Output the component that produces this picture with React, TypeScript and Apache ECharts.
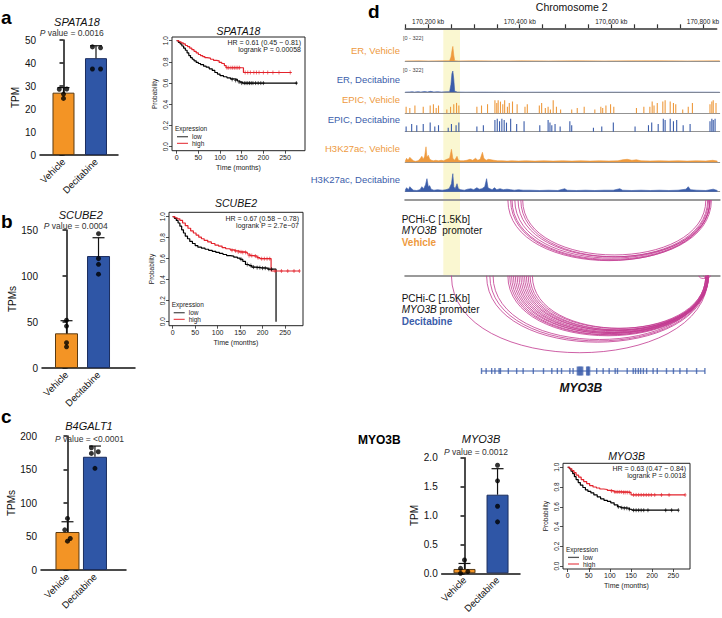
import React, { useEffect, useRef } from 'react';
import * as echarts from 'echarts';

const FONT = "'Liberation Sans', Arial, Helvetica, sans-serif";
const ORANGE = '#F39425';
const BLUE = '#2F56A6';
const T_ORANGE = '#EE9A3E';
const T_BLUE = '#3B5DAA';
const ARC = '#C23A91';
const KM_RED = '#E3232C';

// ---------------- bar chart data ----------------
const barCategories = ['Vehicle', 'Decitabine'];

const spata18Mean = [27.1, 42.1];
const spata18Sd = [2.2, 5.4];
const spata18Points = [[28.6, 28.7, 26.5, 24.6], [47.0, 46.6, 37.4, 37.4]];

const scube2Mean = [37.7, 121.7];
const scube2Sd = [13.7, 19.9];
const scube2Points = [[52, 45.6, 27.5, 23], [146, 119, 112.7, 102]];

const b4galt1Mean = [56.7, 169];
const b4galt1Sd = [15.3, 16];
const b4galt1Points = [[77, 60, 47, 43], [182.5, 174, 176.5, 151.8]];

const myo3bMean = [0.075, 1.36];
const myo3bSd = [0.095, 0.45];
const myo3bPoints = [[0.23, 0.086, 0.03, 0.0], [1.87, 1.6, 1.16, 0.89]];

// ---------------- Kaplan-Meier data ----------------
const kmXTicks = [0, 50, 100, 150, 200, 250];
const kmYTicks = [0, 0.2, 0.4, 0.6, 0.8, 1.0];

const spata18High = [[0,1],[5,0.99],[10,0.98],[15,0.97],[20,0.955],[25,0.945],[30,0.93],[35,0.915],[40,0.9],[45,0.885],[50,0.87],[55,0.86],[60,0.85],[65,0.84],[70,0.835],[78,0.825],[85,0.815],[92,0.81],[98,0.795],[104,0.785],[110,0.765],[114,0.745],[148,0.745],[154,0.70],[265,0.70]];
const spata18Low = [[0,1],[4,0.985],[8,0.97],[12,0.95],[16,0.93],[20,0.91],[24,0.885],[28,0.86],[32,0.84],[36,0.825],[40,0.81],[45,0.795],[50,0.785],[55,0.775],[62,0.76],[68,0.75],[75,0.735],[82,0.72],[88,0.7],[94,0.685],[100,0.67],[108,0.66],[116,0.65],[124,0.64],[132,0.635],[140,0.62],[146,0.61],[152,0.60],[278,0.60]];
const spata18HighCens = [[116,0.745],[120,0.745],[125,0.745],[129,0.745],[133,0.745],[137,0.745],[141,0.745],[145,0.745],[158,0.70],[164,0.70],[170,0.70],[178,0.70],[184,0.70],[190,0.70],[200,0.70],[210,0.70],[222,0.70],[236,0.70],[262,0.70]];
const spata18LowCens = [[128,0.635],[136,0.625],[144,0.61],[150,0.60],[156,0.60],[160,0.60],[164,0.60],[168,0.60],[172,0.60],[176,0.60],[182,0.60],[188,0.60],[194,0.60],[200,0.60],[276,0.60]];

const scube2High = [[0,1],[5,0.99],[10,0.98],[16,0.965],[22,0.94],[28,0.915],[34,0.89],[40,0.865],[46,0.845],[52,0.825],[58,0.805],[64,0.79],[70,0.775],[78,0.76],[86,0.745],[94,0.73],[102,0.72],[110,0.705],[118,0.695],[128,0.685],[138,0.675],[148,0.665],[160,0.66],[166,0.645],[172,0.63],[180,0.625],[188,0.61],[194,0.60],[219,0.60],[219,0.483],[282,0.483]];
const scube2Low = [[0,1],[4,0.985],[8,0.965],[12,0.94],[16,0.91],[20,0.875],[24,0.845],[28,0.815],[33,0.79],[38,0.765],[44,0.745],[50,0.725],[56,0.71],[64,0.70],[72,0.69],[80,0.68],[88,0.67],[96,0.66],[104,0.65],[112,0.64],[120,0.63],[128,0.625],[136,0.615],[144,0.605],[150,0.595],[156,0.575],[162,0.545],[170,0.535],[176,0.52],[186,0.515],[196,0.51],[212,0.50],[230,0.50],[230,0.0]];
const scube2HighCens = [[132,0.68],[140,0.675],[146,0.665],[152,0.665],[156,0.66],[162,0.66],[170,0.63],[176,0.63],[184,0.625],[190,0.61],[198,0.60],[204,0.60],[210,0.60],[216,0.60],[228,0.483],[242,0.483],[256,0.483],[270,0.483],[282,0.483]];
const scube2LowCens = [[152,0.595],[166,0.545],[174,0.535],[180,0.52],[188,0.515],[194,0.515],[200,0.51],[206,0.51],[214,0.50],[220,0.50]];

const myo3bHigh = [[0,1],[5,0.985],[10,0.965],[15,0.945],[20,0.92],[26,0.9],[32,0.875],[38,0.855],[45,0.835],[52,0.815],[60,0.80],[68,0.79],[76,0.78],[85,0.775],[94,0.765],[102,0.76],[110,0.75],[125,0.75],[140,0.745],[150,0.72],[278,0.72]];
const myo3bLow = [[0,1],[4,0.985],[8,0.96],[12,0.935],[16,0.905],[20,0.875],[25,0.845],[30,0.82],[36,0.795],[42,0.77],[48,0.755],[55,0.74],[62,0.72],[70,0.70],[78,0.68],[86,0.665],[94,0.655],[102,0.64],[110,0.62],[118,0.60],[126,0.59],[136,0.585],[146,0.575],[152,0.565],[262,0.565]];
const myo3bHighCens = [[104,0.76],[112,0.75],[117,0.75],[122,0.75],[127,0.75],[132,0.745],[136,0.745],[141,0.745],[146,0.745],[156,0.72],[162,0.72],[168,0.72],[174,0.72],[180,0.72],[186,0.72],[192,0.72],[198,0.72],[206,0.72],[222,0.72],[240,0.72],[278,0.72]];
const myo3bLowCens = [[120,0.60],[128,0.59],[134,0.585],[140,0.585],[146,0.575],[156,0.565],[162,0.565],[168,0.565],[174,0.565],[180,0.565],[190,0.565],[232,0.565],[246,0.565],[262,0.565]];

// ---------------- genome browser data (kb) ----------------
const rulerTicks = [170150,170200,170250,170300,170350,170400,170450,170500,170550,170600,170650,170700,170750,170800];
const rulerLabels = [170200, 170400, 170600, 170800];

const erVehicle = [[170150,1],[170180,2],[170200,1],[170230,2],[170246,3],[170249,60],[170251,150],[170253,220],[170255,90],[170257,4],[170265,1],[170300,3],[170340,1],[170400,2],[170460,1],[170520,3],[170580,1],[170640,2],[170700,3],[170760,1],[170830,2]];
const erDecitabine = [[170150,3],[170160,6],[170165,9],[170170,3],[170178,10],[170184,4],[170192,12],[170198,6],[170205,14],[170212,5],[170220,10],[170228,4],[170238,7],[170246,9],[170249,120],[170251,280],[170253,322],[170255,200],[170257,15],[170263,4],[170280,2],[170320,3],[170380,1],[170450,2],[170520,1],[170600,2],[170680,1],[170760,2],[170830,1]];

const epicVehicle = [[170152,0.5],[170160,0.4],[170171,0.6],[170189,0.5],[170204,0.6],[170211,0.7],[170217,0.4],[170222,0.6],[170240,0.3],[170248,0.5],[170255,0.7],[170261,0.8],[170266,0.6],[170305,0.5],[170315,0.6],[170328,0.7],[170344,1.0],[170348,0.8],[170351,1.0],[170356,0.9],[170361,0.7],[170365,1.0],[170371,0.5],[170375,0.8],[170382,0.9],[170392,0.7],[170409,0.5],[170414,0.7],[170440,0.6],[170445,0.8],[170453,0.4],[170459,0.5],[170464,0.3],[170470,1.0],[170477,0.5],[170486,0.3],[170510,0.3],[170522,0.4],[170537,0.5],[170560,0.3],[170573,0.5],[170577,0.4],[170584,0.6],[170594,0.7],[170601,0.5],[170650,0.4],[170666,0.5],[170679,0.5],[170684,0.9],[170688,0.6],[170695,0.8],[170707,0.9],[170712,1.0],[170723,0.9],[170730,0.8],[170735,0.7],[170750,0.3],[170762,0.5],[170771,0.8],[170809,0.7],[170813,0.9],[170816,1.0],[170822,0.8]];
const epicDecitabine = [[170152,0.4],[170164,0.6],[170175,0.5],[170189,0.6],[170204,0.7],[170214,0.4],[170222,0.5],[170243,0.3],[170250,0.6],[170260,0.5],[170266,0.7],[170305,0.4],[170319,0.5],[170344,0.9],[170349,1.0],[170354,0.8],[170359,1.0],[170364,0.9],[170369,0.7],[170378,1.0],[170391,0.6],[170407,0.8],[170441,0.5],[170459,0.9],[170463,0.7],[170467,0.5],[170474,0.6],[170485,0.4],[170506,0.8],[170510,0.5],[170557,0.3],[170575,0.4],[170600,0.7],[170647,0.4],[170676,0.5],[170683,0.7],[170697,0.6],[170708,1.0],[170712,0.9],[170723,1.0],[170730,0.8],[170737,0.9],[170751,0.5],[170766,0.6],[170809,0.8],[170813,1.0],[170816,0.9],[170820,1.0]];

const h3Vehicle = [[170150,1],[170153,4],[170156,2],[170160,5],[170164,3],[170168,1.5],[170172,1],[170178,1.5],[170183,4],[170186,6],[170189,3],[170192,6],[170195,15.5],[170197,5],[170200,7],[170203,3],[170207,2],[170211,1.5],[170216,2],[170222,1.5],[170228,2],[170233,1.5],[170240,3],[170246,4],[170250,13],[170253,4],[170257,2],[170262,6],[170265,2],[170270,1.5],[170276,1.5],[170283,2],[170290,3],[170296,2],[170302,4],[170307,2],[170312,3],[170317,10],[170320,4],[170325,2],[170330,3],[170336,2.5],[170342,2],[170350,1.5],[170360,1.5],[170370,1.2],[170380,1.5],[170395,1.2],[170410,1.5],[170430,1.2],[170450,1.5],[170470,1.2],[170490,1.5],[170510,1.2],[170530,1.5],[170550,1.2],[170570,1.5],[170590,1.3],[170610,1.5],[170620,2.5],[170630,3],[170640,2],[170650,2.5],[170660,1.5],[170680,1.3],[170700,1.5],[170720,1.3],[170740,1.5],[170760,1.2],[170780,1.5],[170800,1.3],[170815,2],[170825,1.2]];
const h3Decitabine = [[170150,1.5],[170153,4],[170157,2],[170160,5],[170164,3],[170168,1.5],[170175,1.2],[170182,2],[170186,5],[170190,3],[170194,7],[170197,13],[170200,5],[170203,6],[170206,2.5],[170212,1.5],[170220,2],[170230,1.5],[170238,2],[170245,3],[170250,8],[170253,18],[170255,5],[170258,3],[170262,8],[170265,3],[170270,2],[170278,1.5],[170285,2.5],[170292,3],[170298,2],[170305,4],[170310,2.5],[170316,3],[170322,5],[170326,13],[170329,4],[170333,3],[170338,2],[170343,4],[170348,2],[170355,3],[170362,2],[170370,2.5],[170378,2],[170386,1.5],[170395,2],[170405,1.5],[170420,1.5],[170440,1.2],[170460,1.5],[170480,1.2],[170495,3],[170500,1.5],[170520,1.2],[170540,1.5],[170560,1.2],[170580,1.5],[170600,1.5],[170614,3],[170620,1.5],[170640,1.2],[170660,1.5],[170680,1.2],[170700,1.5],[170720,1.2],[170740,1.5],[170757,2.5],[170762,5],[170767,2],[170780,1.5],[170800,1.2],[170816,2.5],[170825,1.2]];

const vehicleArcs = [[170372,170809],[170378,170812],[170381,170809],[170387,170806],[170394,170804],[170400,170809],[170404,170800]];
const decitabineArcs = [[170250,170805],[170326,170805],[170333,170803],[170340,170800],[170372,170805],[170376,170803],[170380,170805],[170384,170800],[170388,170805],[170392,170802],[170396,170806],[170400,170804],[170404,170800],[170408,170805],[170412,170803],[170416,170806],[170420,170800],[170425,170804],[170785,170805],[170795,170810]];

const geneSpan = [[170315, 0], [170798, 0]];
const smallExons = [170315,170325,170337,170344,170353,170356,170373,170391,170405,170427,170449,170467,170479,170488,170506,170513,170564,170578,170591,170604,170609,170630,170643,170648,170654,170659,170665,170672,170686,170695,170715,170730,170744,170759,170780,170798];
const largeExons = [170524,170528,170532,170544,170547];

// ---------------- layout constants ----------------
const KB_MIN = 170150;
const KB_MAX = 170830;
const TRACK_LEFT = 405.2;
const TRACK_WIDTH = 314.5;
const ARC_DEPTH = 0.3;

function buildOption() {
  const grid: any[] = [];
  const xAxis: any[] = [];
  const yAxis: any[] = [];
  const series: any[] = [];
  const g: any[] = [];

  const add = (gr: any, xa: any, ya: any) => {
    const i = grid.length;
    grid.push({ containLabel: false, ...gr });
    xAxis.push({ gridIndex: i, ...xa });
    yAxis.push({ gridIndex: i, ...ya });
    return i;
  };

  const text = (x: number, y: number, t: string, o: any = {}) => {
    g.push({
      type: 'text', x, y, z: 50,
      style: {
        text: t, fontSize: o.size ?? 10, fontFamily: FONT, fontWeight: o.weight ?? 'normal',
        fontStyle: o.style ?? 'normal', fill: o.color ?? '#111',
        align: o.align ?? 'center', verticalAlign: 'middle',
        textAlign: o.align ?? 'center', textVerticalAlign: 'middle',
        rich: o.rich,
      },
    });
  };
  const seg = (x1: number, y1: number, x2: number, y2: number, color: string, width: number) => {
    g.push({ type: 'line', z: 50, shape: { x1, y1, x2, y2 }, style: { stroke: color, lineWidth: width } });
  };

  // ---------- bar panels ----------
  const addBar = (p: any) => {
    const i = add(
      { left: p.left, top: p.top, width: p.width, height: p.height },
      {
        type: 'value', min: p.xmin, max: p.xmax,
        axisLine: { show: true, onZero: false, lineStyle: { color: '#111', width: 1.5 } },
        axisTick: { show: false }, splitLine: { show: false },
        axisLabel: { customValues: [0, 1], formatter: (v: number) => barCategories[Math.round(v)] ?? '', rotate: 45, fontSize: 9.5, color: '#111', margin: 5, fontFamily: FONT },
      },
      {
        type: 'value', min: 0, max: p.ymax, interval: p.interval,
        name: p.yName, nameLocation: 'middle', nameGap: p.nameGap, nameRotate: 90,
        nameTextStyle: { fontSize: 10, color: '#111', fontFamily: FONT },
        axisLine: { show: true, lineStyle: { color: '#111', width: 1.5 } },
        axisTick: { show: true, length: 4, lineStyle: { width: 1.5, color: '#111' } },
        axisLabel: { fontSize: 10, color: '#111', margin: 4, fontFamily: FONT, formatter: (v: number) => v.toFixed(p.decimals) },
        splitLine: { show: false },
      }
    );
    series.push({
      type: 'bar', xAxisIndex: i, yAxisIndex: i, barWidth: p.barWidth, z: 2,
      data: p.means.map((m: number, k: number) => ({
        value: [k, m],
        itemStyle: { color: k === 0 ? ORANGE : BLUE, borderColor: k === 0 ? '#5a3a12' : '#1b2d5e', borderWidth: 1 },
      })),
    });
    series.push({
      type: 'custom', xAxisIndex: i, yAxisIndex: i, z: 3, clip: false,
      data: p.means.map((m: number, k: number) => [k, m, m + p.sds[k]]),
      renderItem: (_: any, api: any) => {
        const x = api.value(0);
        const b = api.coord([x, api.value(1)]);
        const t = api.coord([x, api.value(2)]);
        const st = { stroke: '#111', lineWidth: 1.2 };
        return {
          type: 'group', children: [
            { type: 'line', shape: { x1: b[0], y1: b[1], x2: t[0], y2: t[1] }, style: st },
            { type: 'line', shape: { x1: t[0] - 6, y1: t[1], x2: t[0] + 6, y2: t[1] }, style: st },
          ],
        };
      },
    });
    const pts: number[][] = [];
    p.points.forEach((arr: number[], k: number) => arr.forEach((v, j) => pts.push([k + p.jitter[k][j], v])));
    series.push({ type: 'scatter', xAxisIndex: i, yAxisIndex: i, z: 4, symbolSize: 5, itemStyle: { color: '#000' }, data: pts, clip: false });
  };

  addBar({ left: 40, top: 40, width: 78, height: 115, xmin: -0.723, xmax: 1.677, ymax: 50, interval: 10, decimals: 0, yName: 'TPM', nameGap: 11, barWidth: 22, means: spata18Mean, sds: spata18Sd, points: spata18Points, jitter: [[-0.13, 0.1, 0, 0], [-0.11, 0.14, -0.11, 0.14]] });
  addBar({ left: 42, top: 230, width: 93, height: 138, xmin: -0.766, xmax: 2.14, ymax: 150, interval: 50, decimals: 0, yName: 'TPMs', nameGap: 21, barWidth: 23, means: scube2Mean, sds: scube2Sd, points: scube2Points, jitter: [[0, 0, 0, 0], [0, 0, 0, 0]] });
  addBar({ left: 41, top: 436, width: 85, height: 134, xmin: -0.964, xmax: 2.13, ymax: 200, interval: 50, decimals: 0, yName: 'TPMs', nameGap: 25, barWidth: 24, means: b4galt1Mean, sds: b4galt1Sd, points: b4galt1Points, jitter: [[0, -0.1, 0.1, 0], [-0.13, -0.13, 0.12, 0]] });
  addBar({ left: 441.7, top: 457.7, width: 78.3, height: 115.6, xmin: -0.69, xmax: 1.68, ymax: 2, interval: 0.5, decimals: 1, yName: 'TPM', nameGap: 20, barWidth: 22, means: myo3bMean, sds: myo3bSd, points: myo3bPoints, jitter: [[0, -0.12, 0.1, -0.12], [0, 0, 0, 0]] });

  // bar titles
  const pRich = { i: { fontStyle: 'italic', fontSize: 8.5, fontFamily: FONT, fill: '#333' }, n: { fontSize: 8.5, fontFamily: FONT, fill: '#333' } };
  text(77, 21.7, 'SPATA18', { size: 11, style: 'italic' });
  text(71.7, 33, '{i|P}{n| value = 0.0016}', { size: 8.5, rich: pRich });
  text(80.8, 215, 'SCUBE2', { size: 11, style: 'italic' });
  text(75.8, 226, '{i|P}{n| value = 0.0004}', { size: 8.5, rich: pRich });
  text(89, 426, 'B4GALT1', { size: 11, style: 'italic' });
  text(89.5, 439, '{i|P}{n| value = <0.0001}', { size: 8.5, rich: pRich });
  text(481, 439, 'MYO3B', { size: 11, style: 'italic' });
  text(476, 452, '{i|P}{n| value = 0.0012}', { size: 8.5, rich: pRich });

  // panel letters
  text(1, 17, 'a', { size: 19, weight: 'bold', align: 'left', color: '#000' });
  text(1, 221, 'b', { size: 19, weight: 'bold', align: 'left', color: '#000' });
  text(1, 416, 'c', { size: 19, weight: 'bold', align: 'left', color: '#000' });
  text(368, 11, 'd', { size: 19, weight: 'bold', align: 'left', color: '#000' });
  text(358, 440, 'MYO3B', { size: 12, weight: 'bold', align: 'left', color: '#000' });

  // ---------- KM panels ----------
  const censSymbol = 'path://M5,0 L5,10 M2,5 L8,5';
  const addKm = (p: any) => {
    const i = add(
      { left: p.left, top: p.top, width: p.width, height: p.height, show: true, borderColor: '#222', borderWidth: 1, backgroundColor: 'transparent' },
      {
        type: 'value', min: p.xmin, max: p.xmax,
        axisLine: { show: false, onZero: false }, splitLine: { show: false },
        axisTick: { show: true, customValues: kmXTicks, length: 3, lineStyle: { color: '#222', width: 0.8 } },
        axisLabel: { customValues: kmXTicks, fontSize: 7, color: '#222', margin: 3, fontFamily: FONT },
        name: 'Time (months)', nameLocation: 'middle', nameGap: 13,
        nameTextStyle: { fontSize: 7, color: '#222', fontFamily: FONT },
      },
      {
        type: 'value', min: p.ymin, max: p.ymax,
        axisLine: { show: false, onZero: false }, splitLine: { show: false },
        axisTick: { show: true, customValues: kmYTicks, length: 3, lineStyle: { color: '#222', width: 0.8 } },
        axisLabel: { customValues: kmYTicks, rotate: 90, formatter: (v: number) => v.toFixed(1), fontSize: 6.5, color: '#222', margin: 3, fontFamily: FONT },
        name: 'Probability', nameLocation: 'middle', nameGap: 14, nameRotate: 90,
        nameTextStyle: { fontSize: 6.5, color: '#222', fontFamily: FONT },
      }
    );
    const ln = (data: number[][], color: string) => ({ type: 'line', xAxisIndex: i, yAxisIndex: i, data, step: 'end', symbol: 'none', lineStyle: { color, width: 1.2 }, z: 3 });
    const cs = (data: number[][], color: string) => ({ type: 'scatter', xAxisIndex: i, yAxisIndex: i, data, symbol: censSymbol, symbolSize: [3, 4], itemStyle: { color: 'none', borderColor: color, borderWidth: 0.8 }, z: 4 });
    series.push(ln(p.low, '#000'), ln(p.high, KM_RED), cs(p.lowCens, '#000'), cs(p.highCens, KM_RED));
    const cx = p.left + p.width / 2;
    text(cx, p.titleY, p.title, { size: 10.5, style: 'italic' });
    const rx = p.left + p.width - 4;
    text(rx, p.hrY, p.hr, { size: 7, align: 'right', color: '#222' });
    text(rx, p.hrY + 7.6, p.lr, { size: 7, align: 'right', color: '#222' });
    text(p.legX, p.legY, 'Expression', { size: 6.5, align: 'left', color: '#222' });
    seg(p.legX + 2, p.legY + 8.4, p.legX + 13, p.legY + 8.4, '#555', 1.3);
    text(p.legX + 17, p.legY + 8.4, 'low', { size: 6.5, align: 'left', color: '#222' });
    seg(p.legX + 2, p.legY + 15, p.legX + 13, p.legY + 15, KM_RED, 1);
    text(p.legX + 17, p.legY + 15, 'high', { size: 6.5, align: 'left', color: '#222' });
  };

  addKm({ left: 172, top: 37, width: 133, height: 113.7, xmin: -10.8, xmax: 296, ymin: -0.038, ymax: 1.035, low: spata18Low, high: spata18High, lowCens: spata18LowCens, highCens: spata18HighCens, title: 'SPATA18', titleY: 31, hr: 'HR = 0.61 (0.45 − 0.81)', lr: 'logrank P = 0.00058', hrY: 42, legX: 175, legY: 128.3 });
  addKm({ left: 169, top: 212.3, width: 134, height: 113.4, xmin: -8.2, xmax: 290, ymin: -0.038, ymax: 1.042, low: scube2Low, high: scube2High, lowCens: scube2LowCens, highCens: scube2HighCens, title: 'SCUBE2', titleY: 203, hr: 'HR = 0.67 (0.58 − 0.78)', lr: 'logrank P = 2.7e−07', hrY: 218.3, legX: 171.7, legY: 304.3 });
  addKm({ left: 563, top: 463.3, width: 127, height: 105.7, xmin: -11, xmax: 289.5, ymin: -0.03, ymax: 1.04, low: myo3bLow, high: myo3bHigh, lowCens: myo3bLowCens, highCens: myo3bHighCens, title: 'MYO3B', titleY: 456, hr: 'HR = 0.63 (0.47 − 0.84)', lr: 'logrank P = 0.0018', hrY: 468.3, legX: 566, legY: 549 });

  // ---------- genome browser ----------
  const kbAxis = (extra: any) => ({
    type: 'value', min: KB_MIN, max: KB_MAX, splitLine: { show: false },
    axisTick: { show: false }, axisLabel: { show: false }, ...extra,
  });

  // highlight
  g.push({ type: 'rect', z: 0, shape: { x: 443.3, y: 30, width: 16.7, height: 245.5 }, style: { fill: 'rgba(247, 242, 178, 0.6)' } });

  // ruler
  add(
    { left: TRACK_LEFT, top: 28.3, width: TRACK_WIDTH, height: 4 },
    {
      type: 'value', position: 'top', min: KB_MIN, max: KB_MAX, splitLine: { show: false },
      axisLine: { show: true, onZero: false, lineStyle: { color: '#333', width: 1.5 } },
      axisTick: { show: true, customValues: rulerTicks, length: 4, lineStyle: { color: '#333', width: 1.2 } },
      axisLabel: { customValues: rulerLabels, formatter: (v: number) => v.toLocaleString('en-US') + ' kb', fontSize: 6.5, color: '#222', margin: 3, fontFamily: FONT },
    },
    { type: 'value', show: false, min: 0, max: 1 }
  );
  text(571.7, 6.5, 'Chromosome 2', { size: 10.5, color: '#111' });

  const baseLine = { show: true, onZero: false, lineStyle: { color: '#777', width: 0.8 } };
  const addArea = (top: number, height: number, ymax: number, data: number[][], color: string) => {
    const i = add({ left: TRACK_LEFT, top, width: TRACK_WIDTH, height }, kbAxis({ axisLine: baseLine }), { type: 'value', show: false, min: 0, max: ymax });
    series.push({ type: 'line', xAxisIndex: i, yAxisIndex: i, data, symbol: 'none', lineStyle: { width: 0.6, color }, areaStyle: { color, opacity: 1 }, z: 3, silent: true });
  };
  const addBars = (top: number, height: number, data: number[][], color: string) => {
    const i = add({ left: TRACK_LEFT, top, width: TRACK_WIDTH, height }, kbAxis({ axisLine: baseLine }), { type: 'value', show: false, min: 0, max: 1 });
    series.push({ type: 'bar', xAxisIndex: i, yAxisIndex: i, data, barWidth: 1.1, itemStyle: { color }, z: 3, silent: true });
  };

  addArea(39.7, 21.3, 322, erVehicle, T_ORANGE);
  addArea(71, 21.3, 322, erDecitabine, T_BLUE);
  addBars(100.3, 13, epicVehicle, T_ORANGE);
  addBars(118.7, 13, epicDecitabine, T_BLUE);
  addArea(144.3, 18, 18, h3Vehicle, T_ORANGE);
  addArea(171.7, 20, 20, h3Decitabine, T_BLUE);

  text(403, 38.3, '[0 - 322]', { size: 5.5, align: 'left', color: '#444' });
  text(403, 70, '[0 - 322]', { size: 5.5, align: 'left', color: '#444' });
  text(400, 50, 'ER, Vehicle', { size: 9.5, align: 'right', color: T_ORANGE });
  text(400, 79, 'ER, Decitabine', { size: 9.5, align: 'right', color: T_BLUE });
  text(400, 99, 'EPIC, Vehicle', { size: 9.5, align: 'right', color: T_ORANGE });
  text(400, 119, 'EPIC, Decitabine', { size: 9.5, align: 'right', color: T_BLUE });
  text(400, 148.3, 'H3K27ac, Vehicle', { size: 9.5, align: 'right', color: T_ORANGE });
  text(400, 179.3, 'H3K27ac, Decitabine', { size: 9.5, align: 'right', color: T_BLUE });

  // PCHi-C arcs
  const arcRender = (_: any, api: any) => {
    const a = api.coord([api.value(0), 0]);
    const b = api.coord([api.value(1), 0]);
    const d = (b[0] - a[0]) * ARC_DEPTH * 4 / 3;
    return {
      type: 'bezierCurve',
      shape: { x1: a[0], y1: a[1], x2: b[0], y2: b[1], cpx1: a[0], cpy1: a[1] + d, cpx2: b[0], cpy2: b[1] + d },
      style: { stroke: ARC, fill: 'none', lineWidth: 0.9, opacity: 0.9 },
    };
  };
  const sepLine = { show: true, onZero: false, lineStyle: { color: '#9a9a9a', width: 2 } };
  const va = add({ left: TRACK_LEFT, top: 200, width: TRACK_WIDTH, height: 75 }, kbAxis({ position: 'top', axisLine: sepLine }), { type: 'value', show: false, min: 0, max: 1, inverse: true });
  series.push({ type: 'custom', xAxisIndex: va, yAxisIndex: va, data: vehicleArcs, renderItem: arcRender, clip: false, z: 3, silent: true });
  const da = add({ left: TRACK_LEFT, top: 275.7, width: TRACK_WIDTH, height: 85 }, kbAxis({ position: 'top', axisLine: sepLine }), { type: 'value', show: false, min: 0, max: 1, inverse: true });
  series.push({ type: 'custom', xAxisIndex: da, yAxisIndex: da, data: decitabineArcs, renderItem: arcRender, clip: false, z: 3, silent: true });

  const itRich = { i: { fontStyle: 'italic', fontSize: 10, fontFamily: FONT, fill: '#111' }, n: { fontSize: 10, fontFamily: FONT, fill: '#111' } };
  text(401.7, 219.3, 'PCHi-C [1.5Kb]', { size: 10, align: 'left' });
  text(401.7, 230.5, '{i|MYO3B}{n|  promoter}', { size: 10, align: 'left', rich: itRich });
  text(401.7, 242, 'Vehicle', { size: 10, align: 'left', weight: 'bold', color: T_ORANGE });
  text(401.7, 298.3, 'PCHi-C [1.5Kb]', { size: 10, align: 'left' });
  text(401.7, 309.7, '{i|MYO3B}{n| promoter}', { size: 10, align: 'left', rich: itRich });
  text(401.7, 321, 'Decitabine', { size: 10, align: 'left', weight: 'bold', color: T_BLUE });

  // gene model
  const gi = add({ left: TRACK_LEFT, top: 365, width: TRACK_WIDTH, height: 12 }, kbAxis({ axisLine: { show: false } }), { type: 'value', show: false, min: -1, max: 1 });
  series.push({ type: 'line', xAxisIndex: gi, yAxisIndex: gi, data: geneSpan, symbol: 'none', lineStyle: { color: T_BLUE, width: 1 }, z: 3 });
  series.push({ type: 'scatter', xAxisIndex: gi, yAxisIndex: gi, data: smallExons.map((k) => [k, 0]), symbol: 'rect', symbolSize: [1.4, 6], itemStyle: { color: T_BLUE }, z: 4 });
  series.push({ type: 'scatter', xAxisIndex: gi, yAxisIndex: gi, data: largeExons.map((k) => [k, 0]), symbol: 'rect', symbolSize: [3, 9], itemStyle: { color: T_BLUE }, z: 4 });
  text(580.8, 388.3, 'MYO3B', { size: 12, weight: 'bold', style: 'italic', color: '#111' });

  return {
    animation: false,
    backgroundColor: '#fff',
    textStyle: { fontFamily: FONT },
    grid, xAxis, yAxis, series,
    graphic: { elements: g },
  };
}

export default function App() {
  const ref = useRef<HTMLDivElement>(null);
  useEffect(() => {
    if (!ref.current) return;
    const chart = echarts.init(ref.current, undefined, { renderer: 'svg' });
    chart.setOption(buildOption() as any);
    return () => chart.dispose();
  }, []);
  return <div ref={ref} style={{ position: 'absolute', left: 0, top: 0, width: 722, height: 618, background: '#fff' }} />;
}
